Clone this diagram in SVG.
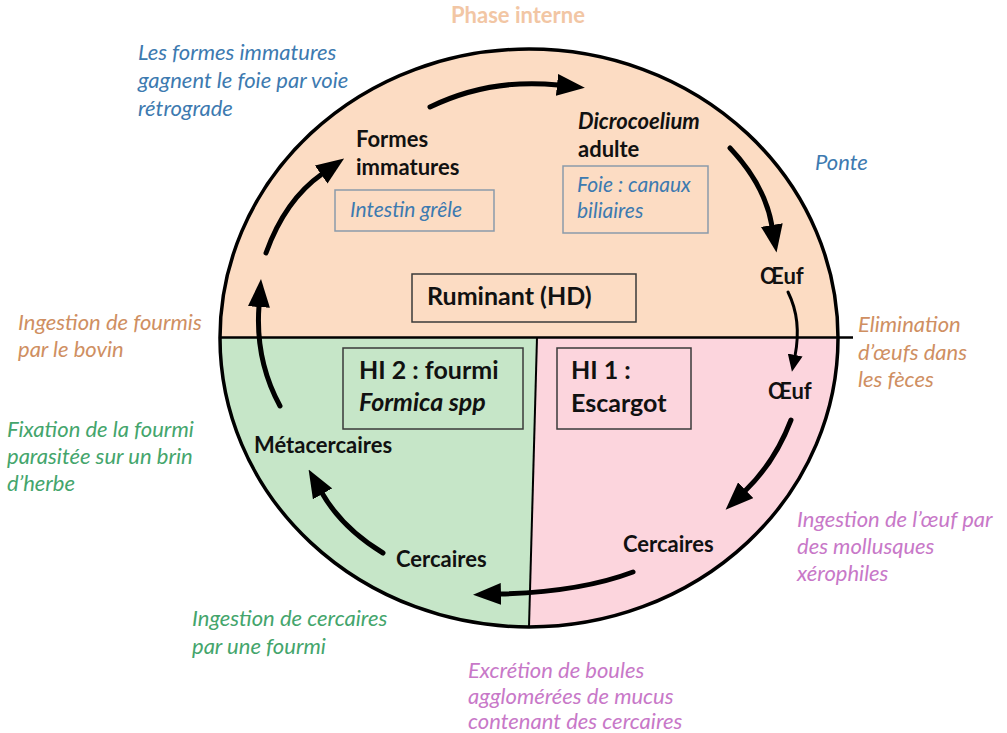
<svg xmlns="http://www.w3.org/2000/svg" width="1007" height="733" viewBox="0 0 1007 733">
<style>
.lbl{font-family:Lato,"Liberation Sans",sans-serif;font-size:22px;font-weight:bold;fill:#111}
.box{font-family:Lato,"Liberation Sans",sans-serif;font-size:25px;font-weight:bold;fill:#111}
.it{font-family:Lato,"Liberation Sans",sans-serif;font-size:22px;font-style:italic}
.bt{font-family:Lato,"Liberation Sans",sans-serif;font-size:21px;font-style:italic;fill:#3d7ab0}
.blue{fill:#3d7ab0}
.orange{fill:#cf8f62}
.green{fill:#44a56c}
.mag{fill:#c878c8}
.arr{fill:none;stroke:#000;stroke-width:5;stroke-linecap:round}
.frame{fill:none;stroke:#3a3a3a;stroke-width:1.5}
.sbox{fill:none;stroke:#8a9aab;stroke-width:1.5}
</style>
<defs>
<clipPath id="cc"><ellipse cx="529" cy="338" rx="309" ry="289"/></clipPath>
<marker id="ah" markerUnits="userSpaceOnUse" markerWidth="28" markerHeight="22" viewBox="0 0 28 22" refX="1" refY="11" orient="auto"><path d="M0,0 L28,11 L0,22 z" fill="#000"/></marker>
<marker id="ahs" markerUnits="userSpaceOnUse" markerWidth="17" markerHeight="15" viewBox="0 0 17 15" refX="1" refY="7.5" orient="auto"><path d="M0,0 L17,7.5 L0,15 z" fill="#000"/></marker>
</defs>
<rect width="1007" height="733" fill="#fff"/>
<g id="background" clip-path="url(#cc)">
<rect x="200" y="30" width="680" height="308" fill="#fcdcc3"/>
<polygon points="200,337.5 537,337.5 528.6,640 200,640" fill="#c6e6c8"/>
<polygon points="537,337.5 880,337.5 880,640 528.6,640" fill="#fcd5dd"/>
</g>
<g id="frame">
<line x1="220" y1="337.5" x2="853" y2="337.5" stroke="#000" stroke-width="2.5"/>
<line x1="537" y1="337.5" x2="529" y2="627" stroke="#000" stroke-width="2"/>
<ellipse cx="529" cy="338" rx="309" ry="289" fill="none" stroke="#000" stroke-width="3.5"/>
</g>
<g id="connectors">
<path class="arr" d="M430,107 Q490,78 558,85" marker-end="url(#ah)"/>
<path class="arr" d="M730,148 Q765,185 772,226" marker-end="url(#ah)"/>
<path class="arr" style="stroke-width:3" d="M788,292 Q802,320 795,356" marker-end="url(#ahs)"/>
<path class="arr" d="M791,420 Q775,462 745,491" marker-end="url(#ah)"/>
<path class="arr" d="M633,572 Q580,592 500,594" marker-end="url(#ah)"/>
<path class="arr" d="M383,553 Q342,528 322,493" marker-end="url(#ah)"/>
<path class="arr" d="M280,406 Q255,360 259,306" marker-end="url(#ah)"/>
<path class="arr" d="M266,253 Q285,200 322,174" marker-end="url(#ah)"/>
</g>
<g id="phase-interne"><text x="518" y="23" text-anchor="middle" style="font-family:Lato,'Liberation Sans',sans-serif;font-size:22px;font-weight:bold;fill:#f2c6a4">Phase interne</text></g>
<g id="label-retrograde"><text class="it blue" x="138" y="60">Les formes immatures</text><text class="it blue" x="138" y="88">gagnent le foie par voie</text><text class="it blue" x="138" y="116">rétrograde</text></g>
<g id="label-ponte"><text class="it blue" x="815" y="170">Ponte</text></g>
<g id="node-formes"><text class="lbl" x="356" y="147">Formes</text><text class="lbl" x="356" y="175">immatures</text></g>
<g id="node-intestin"><rect class="sbox" x="335" y="190" width="159" height="41"/><text class="bt" x="350" y="217">Intestin grêle</text></g>
<g id="node-adulte"><text class="lbl" x="578" y="129" font-style="italic">Dicrocoelium</text><text class="lbl" x="578" y="157">adulte</text></g>
<g id="node-foie"><rect class="sbox" x="563" y="166" width="145" height="67"/><text class="bt" x="577" y="192">Foie : canaux</text><text class="bt" x="577" y="218">biliaires</text></g>
<g id="node-oeuf1"><text class="lbl" x="760" y="284">Œuf</text></g>
<g id="node-ruminant"><rect class="frame" x="412" y="274" width="224" height="48"/><text class="box" x="427" y="305">Ruminant (HD)</text></g>
<g id="label-ingestion-bovin"><text class="it orange" x="18" y="330">Ingestion de fourmis</text><text class="it orange" x="18" y="357">par le bovin</text></g>
<g id="label-elimination"><text class="it orange" x="858" y="332">Elimination</text><text class="it orange" x="858" y="360">d’œufs dans</text><text class="it orange" x="858" y="387">les fèces</text></g>
<g id="node-hi2"><rect class="frame" x="343" y="348" width="180" height="81"/><text class="box" x="359" y="379">HI 2 : fourmi</text><text class="box" x="359" y="411" font-style="italic">Formica spp</text></g>
<g id="node-hi1"><rect class="frame" x="557" y="348" width="134" height="81"/><text class="box" x="571" y="379">HI 1 :</text><text class="box" x="571" y="412">Escargot</text></g>
<g id="node-oeuf2"><text class="lbl" x="768" y="399">Œuf</text></g>
<g id="label-fixation"><text class="it green" x="7" y="437">Fixation de la fourmi</text><text class="it green" x="7" y="464">parasitée sur un brin</text><text class="it green" x="7" y="491">d’herbe</text></g>
<g id="node-metacercaires"><text class="lbl" x="254" y="453">Métacercaires</text></g>
<g id="node-cercaires-hi2"><text class="lbl" x="396" y="567">Cercaires</text></g>
<g id="node-cercaires-hi1"><text class="lbl" x="623" y="552">Cercaires</text></g>
<g id="label-ingestion-oeuf"><text class="it mag" x="797" y="527">Ingestion de l’œuf par</text><text class="it mag" x="797" y="554">des mollusques</text><text class="it mag" x="797" y="581">xérophiles</text></g>
<g id="label-ingestion-cercaires"><text class="it green" x="192" y="626">Ingestion de cercaires</text><text class="it green" x="192" y="654">par une fourmi</text></g>
<g id="label-excretion"><text class="it mag" x="468" y="678">Excrétion de boules</text><text class="it mag" x="468" y="704">agglomérées de mucus</text><text class="it mag" x="468" y="729">contenant des cercaires</text></g>
</svg>
